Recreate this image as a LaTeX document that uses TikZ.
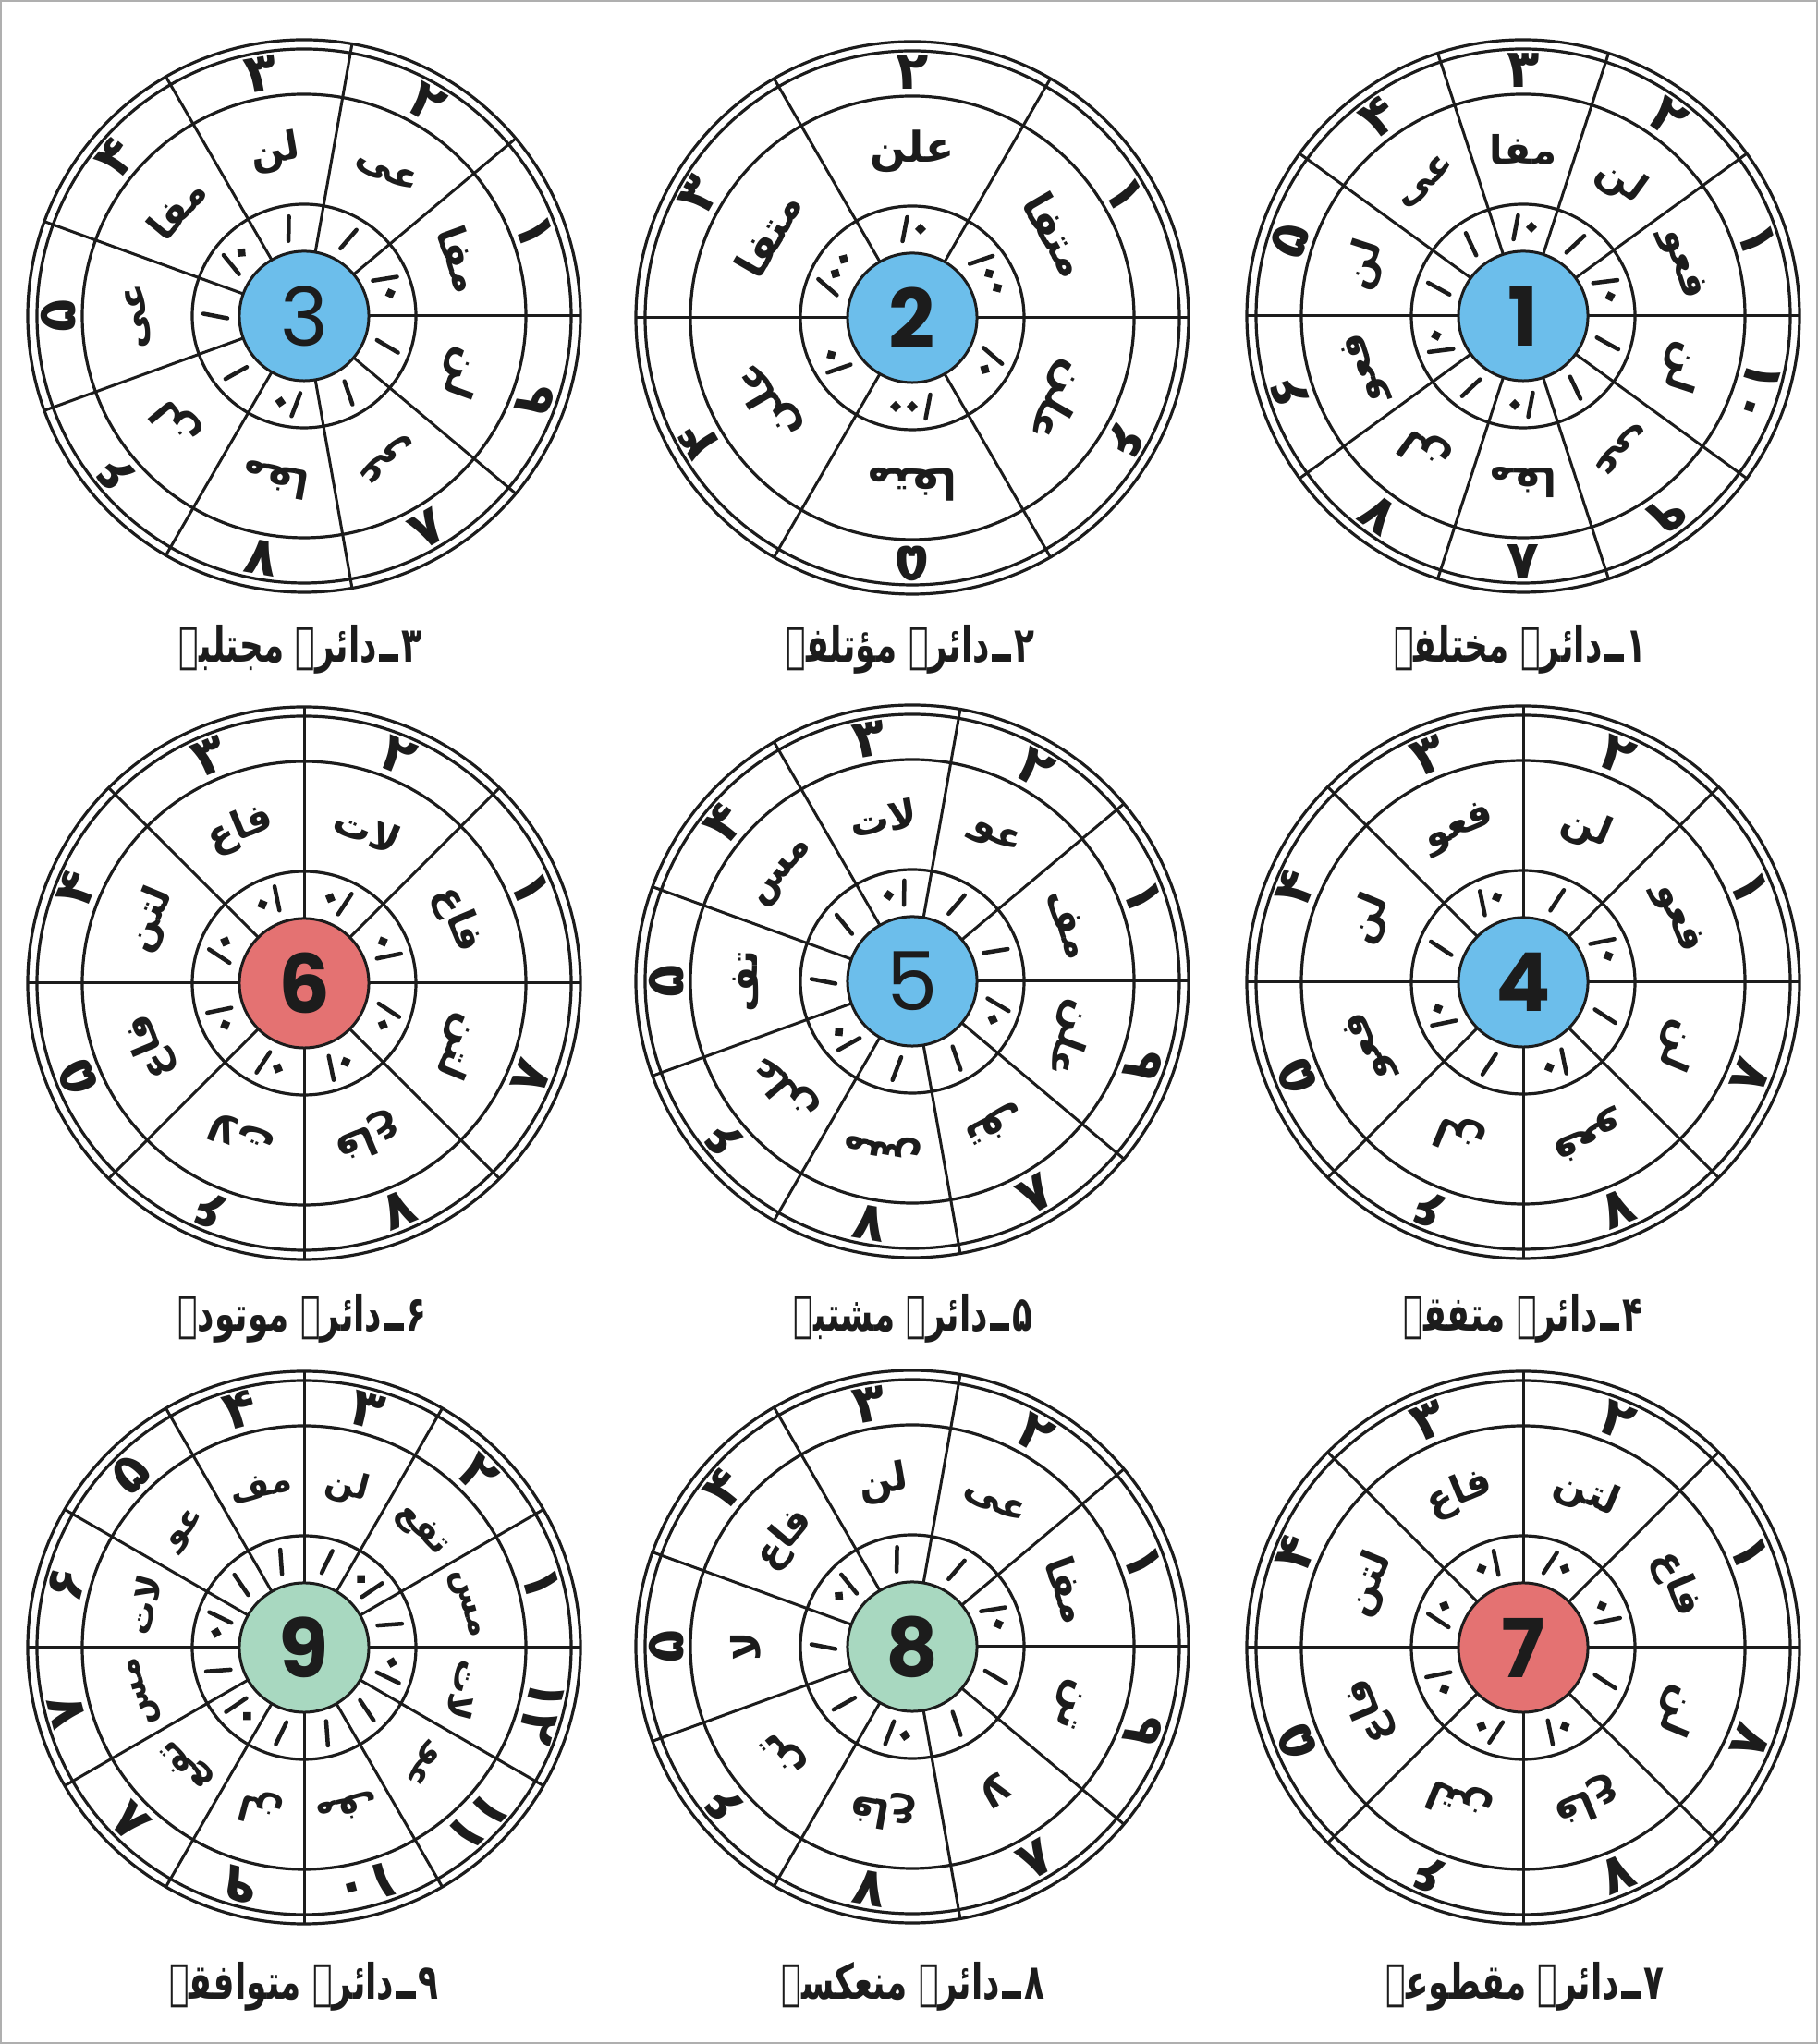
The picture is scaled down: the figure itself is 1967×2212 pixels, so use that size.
\documentclass[tikz,border=0pt]{standalone}
\usepackage{fontspec}
\TeXXeTstate=1
\newfontfamily\urdu[Script=Arabic,Language=Urdu]{DejaVu Sans}
\newfontfamily\urducap[Script=Arabic,Language=Urdu,FakeStretch=0.68]{DejaVu Sans}
\newfontfamily\numfont{Poppins}
\usetikzlibrary{calc}
\definecolor{ink}{RGB}{28,28,28}
\definecolor{dblue}{RGB}{108,190,235}
\definecolor{dred}{RGB}{228,114,114}
\definecolor{dgreen}{RGB}{168,216,192}
\definecolor{framegray}{RGB}{175,175,175}
\tikzset{
  ring/.style={draw=ink, line width=0.032cm},
  spoke/.style={draw=ink, line width=0.03cm},
  disk/.style={circle, draw=ink, line width=0.03cm, minimum size=1.40cm, inner sep=0pt, text=ink, font=\numfont\bfseries\fontsize{25}{30}\selectfont},
  outnum/.style={inner sep=0pt, text=ink, font=\urdu\bfseries\fontsize{16.5}{19}\selectfont},
  syl/.style={inner sep=0pt, text=ink},
  caption/.style={inner sep=0pt, text=ink, font=\urducap\bfseries\fontsize{15}{18}\selectfont},
  mstroke/.style={draw=ink, line width=0.045cm, line cap=round},
}
% Urdu full stop drawn as a short bar (no installed Arabic font has U+06D4)
\newcommand\udash{\kern0.06em\rule[0.02em]{0.4em}{0.14em}\kern0.04em}
\newcommand\mkstroke[1]{\draw[mstroke] (#1-2.5,83) -- (#1+2.5,109);}
\newcommand\mkdot[1]{\fill[ink] (#1,90) -- (#1+6,96) -- (#1,102) -- (#1-6,96) -- cycle;}
\newcommand\markS{\mkstroke{0}}
\newcommand\markSD{\mkstroke{-8}\mkdot{9}}
\newcommand\markDS{\mkdot{-9}\mkstroke{8}}
\newcommand\markSDD{\mkstroke{-17}\mkdot{0}\mkdot{18}}
\newcommand\dialbase[6]{%
  \coordinate (#1) at (#2,#3);
  \draw[ring] (#1) circle[radius=299];
  \draw[ring] (#1) circle[radius=289];
  \draw[ring] (#1) circle[radius=240];
  \draw[ring] (#1) circle[radius=121];
  \pgfmathsetmacro\stp{360/#4}
  \foreach \k in {1,...,#4} {
    \pgfmathsetmacro\ang{\k*\stp}
    \draw[spoke] ($(#1)+(\ang:70)$) -- ($(#1)+(\ang:299)$);
  }
  \node[disk, fill=#5] (#1-disk) at (#1) {#6};
}
% #1 name, #2 segments, #3 numbers, #4 syllables, #5 marks, #6 syllable size (pt)
\newcommand\dialtexts[6]{%
  \pgfmathsetmacro\stp{360/#2}
  \foreach \lbl [count=\i from 0] in {#3} {
    \pgfmathsetmacro\ang{(\i+0.5)*\stp}
    \pgfmathsetmacro\rot{\ang-90}
    \node[outnum, rotate=\rot] (#1-n\i) at ($(#1)+(\ang:266)$) {\lbl};
  }
  \foreach \lbl [count=\i from 0] in {#4} {
    \pgfmathsetmacro\ang{(\i+0.5)*\stp}
    \pgfmathsetmacro\rot{\ang-90}
    \node[syl, font=\urdu\bfseries\fontsize{#6}{#6}\selectfont, rotate=\rot] (#1-s\i) at ($(#1)+(\ang:180)$) {\beginR\lbl\endR};
  }
  \foreach \m [count=\i from 0] in {#5} {
    \pgfmathsetmacro\ang{(\i+0.5)*\stp}
    \pgfmathsetmacro\rot{\ang-90}
    \begin{scope}[shift={(#1)}, rotate=\rot]
      \csname mark\m\endcsname
    \end{scope}
  }
}
\begin{document}
\begin{tikzpicture}[x=0.01cm,y=0.01cm]
\useasboundingbox (0,0) rectangle (1967,2212);
\fill[white] (0,0) rectangle (1967,2212);
\draw[framegray, line width=0.02cm] (1,1) rectangle (1966,2211);

% row 1
\dialbase{c1}{1648}{1870}{10}{dblue}{1}
\dialtexts{c1}{10}{۱,۲,۳,۴,۵,۶,۷,۸,۹,۱۰}{فعو,لن,مفا,عی,لن,فعو,لن,مفا,عی,لن}{SD,S,SD,S,S,SD,S,SD,S,S}{12}
\dialbase{c2}{987}{1868}{6}{dblue}{2}
\dialtexts{c2}{6}{۱,۲,۳,۴,۵,۶}{متفا,علن,متفا,علن,متفا,علن}{SDD,SD,SDD,SD,SDD,SD}{13}
\dialbase{c3}{329}{1870}{9}{dblue}{\mdseries 3}
\dialtexts{c3}{9}{۱,۲,۳,۴,۵,۶,۷,۸,۹}{مفا,عی,لن,مفا,عی,لن,مفا,عی,لن}{SD,S,S,SD,S,S,SD,S,S}{12}

% row 2
\dialbase{c4}{1648}{1149}{8}{dblue}{4}
\dialtexts{c4}{8}{۱,۲,۳,۴,۵,۶,۷,۸}{فعو,لن,فعو,لن,فعو,لن,فعو,لن}{SD,S,SD,S,SD,S,SD,S}{12}
\dialbase{c5}{987}{1150}{9}{dblue}{\mdseries 5}
\dialtexts{c5}{9}{۱,۲,۳,۴,۵,۶,۷,۸,۹}{مف,عو,لات,مس,تف,علن,مس,تف,علن}{S,S,DS,S,S,SD,S,S,SD}{12}
\dialbase{c6}{329}{1148}{8}{dred}{6}
\dialtexts{c6}{8}{۱,۲,۳,۴,۵,۶,۷,۸}{فاع,لات,فاع,لتن,فاع,لات,فاع,لتن}{DS,DS,DS,SD,DS,DS,DS,SD}{12}

% row 3
\dialbase{c7}{1648}{429}{8}{dred}{7}
\dialtexts{c7}{8}{۱,۲,۳,۴,۵,۶,۷,۸}{فاع,لتن,فاع,لتن,فاع,لتن,فاع,لن}{DS,SD,DS,SD,DS,SD,DS,S}{12}
\dialbase{c8}{987}{430}{9}{dgreen}{8}
\dialtexts{c8}{9}{۱,۲,۳,۴,۵,۶,۷,۸,۹}{مفا,عی,لن,فاع,لا,تن,فاع,لا,تن}{SD,S,S,DS,S,S,DS,S,S}{12}
\dialbase{c9}{329}{429}{12}{dgreen}{9}
\dialtexts{c9}{12}{۱,۲,۳,۴,۵,۶,۷,۸,۹,۱۰,۱۱,۱۲}{مس,تفع,لن,مف,عو,لات,مس,تفع,لن,مف,عو,لات}{S,DS,S,S,S,DS,S,DS,S,S,S,DS}{10.5}

% captions
\node[caption] (cap1) at (1645,1509) {\beginR ۱\udash دائرہ مختلفہ\endR};
\node[caption] (cap2) at (985,1509) {\beginR ۲\udash دائرہ مؤتلفہ\endR};
\node[caption] (cap3) at (325,1509) {\beginR ۳\udash دائرہ مجتلبہ\endR};
\node[caption] (cap4) at (1648,785) {\beginR ۴\udash دائرہ متفقہ\endR};
\node[caption] (cap5) at (988,785) {\beginR ۵\udash دائرہ مشتبہ\endR};
\node[caption] (cap6) at (327,785) {\beginR ۶\udash دائرہ موتودہ\endR};
\node[caption] (cap7) at (1650,62) {\beginR ۷\udash دائرہ مقطوعہ\endR};
\node[caption] (cap8) at (988,62) {\beginR ۸\udash دائرہ منعکسہ\endR};
\node[caption] (cap9) at (329,62) {\beginR ۹\udash دائرہ متوافقہ\endR};
\end{tikzpicture}
\end{document}
